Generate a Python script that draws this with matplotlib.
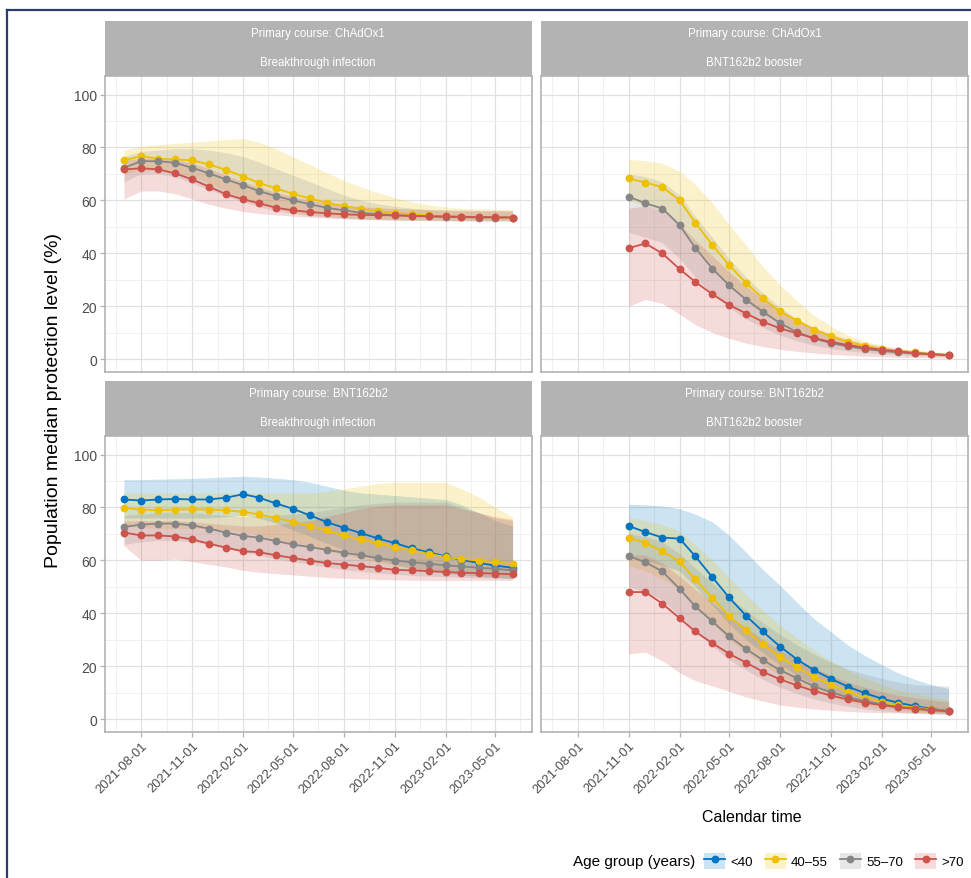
import matplotlib
matplotlib.use("Agg")
import matplotlib.pyplot as plt
import matplotlib.dates as mdates
from matplotlib.lines import Line2D
from matplotlib.patches import Patch
import numpy as np
import pandas as pd

plt.rcParams['font.family'] = ['Liberation Sans', 'DejaVu Sans']

# ---------------- data ----------------
dates_long = pd.date_range('2021-07-01', '2023-06-01', freq='MS')   # 24 months
dates_short = pd.date_range('2021-11-01', '2023-06-01', freq='MS')  # 20 months
tick_dates = pd.date_range('2021-08-01', '2023-05-01', freq='3MS')
x_limits = ('2021-05-27', '2023-07-06')
y_limits = (-4.9, 107)
y_ticks = [0, 20, 40, 60, 80, 100]

age_groups = ['<40', '40\u201355', '55\u201370', '>70']
group_colors = ['#0073C2', '#EFC000', '#868686', '#CD534C']

strip_line1 = ['Primary course: ChAdOx1', 'Primary course: ChAdOx1',
               'Primary course: BNT162b2', 'Primary course: BNT162b2']
strip_line2 = ['Breakthrough infection', 'BNT162b2 booster',
               'Breakthrough infection', 'BNT162b2 booster']

# Panel 1: ChAdOx1 / Breakthrough infection (groups 40-55, 55-70, >70)
p1_y_med = [75.1, 76.7, 75.7, 75.5, 75.1, 73.6, 71.5, 69.0, 66.6, 64.5, 62.5, 60.7,
            59.1, 57.8, 56.8, 55.9, 55.3, 54.7, 54.3, 54.0, 53.8, 53.7, 53.6, 53.5]
p1_y_lo = [70, 71.5, 71, 70.5, 69, 66.5, 63.5, 61, 58.5, 57, 55.5, 54.5,
           54, 53.5, 53, 52.8, 52.6, 52.5, 52.4, 52.3, 52.3, 52.2, 52.2, 52.2]
p1_y_hi = [79, 80.5, 81, 81.5, 82, 82.5, 83, 83.3, 82, 79.5, 76.5, 73.5,
           70.5, 67.5, 65, 63, 61, 59.5, 58.3, 57.5, 57, 56.8, 56.6, 56.5]
p1_g_med = [72.3, 74.8, 74.8, 74.2, 72.3, 70.2, 67.9, 65.7, 63.5, 61.6, 60.0, 58.5,
            57.2, 56.2, 55.3, 54.8, 54.4, 54.1, 53.9, 53.7, 53.6, 53.5, 53.5, 53.5]
p1_g_lo = [67, 70, 70, 69, 66.5, 64, 61.5, 59.5, 57.5, 56, 55, 54.2,
           53.6, 53.2, 52.9, 52.7, 52.5, 52.4, 52.3, 52.2, 52.2, 52.1, 52.1, 52.1]
p1_g_hi = [76.5, 78.5, 79, 79.5, 79.5, 79, 78, 76.5, 74.5, 72, 69.5, 67,
           64.5, 62, 60, 58.7, 57.8, 57, 56.5, 56.2, 56, 56, 55.9, 55.8]
p1_r_med = [71.7, 72.1, 71.7, 70.2, 67.9, 65.2, 62.3, 60.4, 58.9, 57.2, 56.2, 55.6,
            55.1, 54.7, 54.5, 54.4, 54.3, 54.1, 54.0, 53.9, 53.8, 53.7, 53.6, 53.5]
p1_r_lo = [60.5, 63.5, 63.5, 62.5, 60.5, 58.5, 57, 55.8, 55, 54.5, 54, 53.6,
           53.3, 53, 52.8, 52.7, 52.6, 52.5, 52.5, 52.4, 52.4, 52.4, 52.4, 52.4]
p1_r_hi = [75, 76, 76, 75.5, 74, 72, 69.5, 67, 65, 63, 61.5, 60,
           59, 58.2, 57.6, 57.2, 56.9, 56.7, 56.5, 56.4, 56.3, 56.2, 56.2, 56.2]

# Panel 2: ChAdOx1 / BNT162b2 booster
p2_y_med = [68.3, 66.7, 65.0, 60.0, 51.6, 43.1, 35.5, 28.7, 22.9, 18.0,
            14.5, 11.1, 8.6, 6.5, 5.0, 3.8, 3.1, 2.5, 1.9, 1.5]
p2_y_lo = [60, 58, 56, 51, 43, 35, 28, 22, 17, 13,
           10, 7.6, 5.8, 4.4, 3.4, 2.6, 2.0, 1.6, 1.3, 1.0]
p2_y_hi = [75.5, 75, 74, 71, 66, 59, 51, 43, 35, 28,
           22, 16.5, 12.5, 9, 6.8, 5.2, 4.2, 3.4, 2.8, 2.4]
p2_g_med = [61.4, 58.9, 56.9, 50.6, 42.1, 34.2, 27.9, 22.4, 17.9, 13.6,
            10.1, 7.8, 6.0, 4.8, 3.8, 3.1, 2.5, 2.1, 1.8, 1.5]
p2_g_lo = [48, 46, 44, 38, 31, 24.5, 19.5, 15, 12, 9,
           6.8, 5.2, 4, 3.1, 2.5, 2, 1.6, 1.3, 1.1, 0.9]
p2_g_hi = [70, 69, 67, 62, 54, 46, 38, 31, 25, 19.5,
           15, 11.5, 9, 7, 5.5, 4.4, 3.6, 3.0, 2.5, 2.1]
p2_r_med = [41.9, 43.7, 39.9, 34.0, 29.2, 24.5, 20.5, 17.2, 14.1, 11.6,
            9.7, 7.9, 6.5, 5.3, 4.3, 3.5, 2.9, 2.3, 1.8, 1.5]
p2_r_lo = [20, 22.5, 21, 17, 13, 10, 7.8, 6, 4.7, 3.7,
           2.9, 2.3, 1.8, 1.4, 1.1, 0.9, 0.7, 0.6, 0.5, 0.4]
p2_r_hi = [57, 58, 56, 51, 45, 39, 33, 27.5, 22.5, 18.5,
           15, 12, 9.5, 7.5, 6, 4.8, 3.9, 3.2, 2.6, 2.2]

# Panel 3: BNT162b2 / Breakthrough infection
p3_b_med = [83.0, 82.6, 83.0, 83.2, 83.0, 83.0, 83.7, 85.0, 83.7, 81.5, 79.5, 77.0,
            74.5, 72.3, 70.3, 68.3, 66.5, 64.6, 63.0, 61.5, 60.2, 59.0, 58.0, 57.2]
p3_b_lo = [76, 76, 76, 76, 76, 76, 76.5, 77, 76, 74, 71.5, 69,
           66.5, 64, 62, 60, 58.5, 57, 56, 55, 54.5, 54, 53.5, 53]
p3_b_hi = [90.5, 90.5, 90.7, 90.8, 91, 91.2, 91.5, 91.8, 91.5, 91, 90.5, 89.5,
           88, 86.5, 85.5, 85, 84.5, 84, 83.5, 83, 81, 78, 75, 73]
p3_y_med = [79.8, 79.2, 78.9, 79.2, 79.3, 79.2, 78.9, 78.3, 77.4, 76.0, 74.5, 73.0,
            71.3, 69.4, 67.9, 66.5, 65.0, 63.8, 62.5, 61.2, 60.6, 59.9, 59.3, 58.5]
p3_y_lo = [73, 72.5, 72, 72, 72, 72, 71.5, 70.5, 69.5, 68, 66.5, 65,
           63.5, 62, 60.5, 59, 58, 57, 56, 55.2, 54.7, 54.2, 53.8, 53.5]
p3_y_hi = [85.5, 85.5, 85.5, 85.5, 85.5, 85.5, 85.5, 85.5, 85.5, 85.5, 85.5, 85.5,
           86, 87, 88, 89, 89.5, 89.5, 89.5, 89.5, 87, 84, 80, 76.5]
p3_g_med = [72.6, 73.5, 73.9, 73.9, 73.2, 72.0, 70.5, 69.2, 68.6, 67.3, 66.0, 65.0,
            64.0, 62.9, 61.9, 60.9, 59.9, 59.3, 58.7, 58.1, 57.7, 57.2, 56.8, 56.2]
p3_g_lo = [66, 67, 67.5, 67.5, 67, 66, 64.5, 63, 62, 60.5, 59.5, 58.5,
           57.5, 56.5, 55.8, 55.2, 54.7, 54.3, 54, 53.8, 53.6, 53.4, 53.2, 53]
p3_g_hi = [77, 77.5, 78, 78, 78, 77.5, 77, 76.5, 76.5, 77, 77.5, 78,
           79, 80, 81, 81.5, 82, 82, 82, 82, 80, 78, 76, 75]
p3_r_med = [70.5, 69.4, 69.4, 69.0, 67.9, 66.3, 64.8, 63.4, 63.1, 61.9, 60.9, 59.9,
            59.0, 58.4, 57.8, 57.2, 56.4, 56.2, 55.9, 55.6, 55.3, 55.2, 55.0, 54.7]
p3_r_lo = [65.5, 60, 60, 60.5, 59.5, 58.5, 57.5, 56.2, 55.5, 55, 54.5, 54,
           53.5, 53.2, 53, 52.8, 52.6, 52.5, 52.4, 52.4, 52.4, 52.4, 52.4, 52.4]
p3_r_hi = [75, 75, 75, 75, 74.5, 74, 73.5, 73, 73, 73.5, 74, 75,
           76.5, 78, 79.5, 80.5, 81, 81, 81, 81, 79.5, 78, 76.5, 75.5]

# Panel 4: BNT162b2 / BNT162b2 booster
p4_b_med = [73.0, 70.7, 68.6, 68.2, 61.6, 53.6, 46.0, 39.0, 33.1, 27.4,
            22.5, 18.5, 15.2, 12.3, 9.8, 7.7, 6.2, 4.9, 3.9, 3.0]
p4_b_lo = [62, 60, 58, 56, 50, 43, 36, 30, 25, 20.5,
           16.5, 13, 10.5, 8.3, 6.5, 5.1, 4.1, 3.3, 2.7, 2.2]
p4_b_hi = [81.2, 81, 80.5, 79.5, 77.5, 74.5, 69.5, 63, 56.5, 50.5,
           44, 38, 33, 28, 24, 20.5, 17.5, 15, 13, 11.5]
p4_y_med = [68.6, 66.6, 63.4, 59.6, 52.8, 45.8, 39.0, 33.5, 28.2, 23.5,
            19.6, 15.9, 12.9, 10.4, 8.1, 6.5, 5.2, 4.3, 3.7, 3.0]
p4_y_lo = [58, 56, 53, 49, 42.5, 36, 30, 25, 20.5, 16.5,
           13.3, 10.5, 8.3, 6.5, 5, 4, 3.2, 2.6, 2.2, 1.8]
p4_y_hi = [76, 75, 73.5, 71, 66, 60, 53.5, 47, 41, 35.5,
           30.5, 26, 22, 18.5, 15.5, 13, 11, 9.5, 8.3, 7.3]
p4_g_med = [61.6, 59.3, 55.8, 49.2, 42.6, 36.9, 31.3, 26.5, 22.3, 18.5,
            15.4, 12.4, 10.1, 8.2, 6.8, 5.5, 4.6, 3.9, 3.4, 3.0]
p4_g_lo = [50, 48, 45, 39, 33, 27.5, 22.5, 18.5, 15, 12,
           9.6, 7.6, 6, 4.8, 3.8, 3.1, 2.6, 2.2, 1.9, 1.7]
p4_g_hi = [70, 69, 67, 62.5, 57, 51.5, 46, 41, 36.5, 32,
           28, 24.5, 21.5, 19, 17, 15.3, 14, 13, 12.6, 12.5]
p4_r_med = [48.0, 48.0, 43.6, 38.1, 33.1, 28.7, 24.7, 21.3, 17.9, 15.0,
            12.7, 10.6, 8.9, 7.4, 6.2, 5.2, 4.5, 3.9, 3.4, 3.0]
p4_r_lo = [24.6, 25.3, 22, 17.5, 14.5, 12.5, 10.5, 8.3, 6.8, 5.3,
           4.5, 3.8, 3.3, 2.9, 2.6, 2.4, 2.3, 2.2, 2.1, 2.0]
p4_r_hi = [62, 62, 59, 54, 49, 44, 39, 34.5, 30, 26,
           22.5, 19.5, 16.5, 14, 12, 10.3, 9, 8, 7.2, 6.5]

# (group index, median, low, high) per panel
panels = [
    (dates_long, [(1, p1_y_med, p1_y_lo, p1_y_hi), (2, p1_g_med, p1_g_lo, p1_g_hi),
                  (3, p1_r_med, p1_r_lo, p1_r_hi)]),
    (dates_short, [(1, p2_y_med, p2_y_lo, p2_y_hi), (2, p2_g_med, p2_g_lo, p2_g_hi),
                   (3, p2_r_med, p2_r_lo, p2_r_hi)]),
    (dates_long, [(0, p3_b_med, p3_b_lo, p3_b_hi), (1, p3_y_med, p3_y_lo, p3_y_hi),
                  (2, p3_g_med, p3_g_lo, p3_g_hi), (3, p3_r_med, p3_r_lo, p3_r_hi)]),
    (dates_short, [(0, p4_b_med, p4_b_lo, p4_b_hi), (1, p4_y_med, p4_y_lo, p4_y_hi),
                   (2, p4_g_med, p4_g_lo, p4_g_hi), (3, p4_r_med, p4_r_lo, p4_r_hi)]),
]

# ---------------- layout ----------------
W, H = 971, 879
fig = plt.figure(figsize=(W / 100, H / 100), dpi=100)
fig.patch.set_facecolor('white')

def px_axes(x0, y0, x1, y1):
    return fig.add_axes([x0 / W, 1 - y1 / H, (x1 - x0) / W, (y1 - y0) / H])

col_x = [(104.5, 532), (541, 968)]
row_y = [((22, 77), (77, 373)), ((382, 437), (437, 733))]

GRID_MAJ = '#e1e1e1'
GRID_MIN = '#eeeeee'
BORDER = '#b3b3b3'
TEXT = '#4d4d4d'

major_num = mdates.date2num(tick_dates)
step0 = major_num[1] - major_num[0]
minor_num = np.concatenate([[major_num[0] - step0 / 2],
                            (major_num[:-1] + major_num[1:]) / 2,
                            [major_num[-1] + (major_num[-1] - major_num[-2]) / 2]])
xlim = mdates.date2num(pd.to_datetime(list(x_limits)))

for i, (dates, series) in enumerate(panels):
    r, c = divmod(i, 2)
    x0, x1 = col_x[c]
    (sy0, sy1), (py0, py1) = row_y[r]
    # strip
    sax = px_axes(x0, sy0, x1, sy1)
    sax.set_facecolor(BORDER)
    for s in sax.spines.values():
        s.set_visible(False)
    sax.set_xticks([]); sax.set_yticks([])
    sax.text(0.5, 0.78, strip_line1[i], ha='center', va='center', color='white',
             fontsize=8.3, transform=sax.transAxes)
    sax.text(0.5, 0.26, strip_line2[i], ha='center', va='center', color='white',
             fontsize=8.3, transform=sax.transAxes)

    ax = px_axes(x0, py0, x1, py1)
    ax.set_xlim(xlim)
    ax.set_ylim(*y_limits)
    ax.set_xticks(major_num)
    ax.set_xticks(minor_num, minor=True)
    ax.set_yticks(y_ticks)
    ax.set_yticks([10, 30, 50, 70, 90], minor=True)
    ax.grid(which='major', color=GRID_MAJ, lw=0.9)
    ax.grid(which='minor', color=GRID_MIN, lw=0.6)
    ax.set_axisbelow(True)
    for s in ax.spines.values():
        s.set_color(BORDER)
        s.set_linewidth(1.2)
    ax.tick_params(which='minor', length=0)
    ax.tick_params(which='major', color=BORDER, length=3.5, width=0.9,
                   labelcolor=TEXT, pad=2)
    ax.tick_params(axis='y', labelsize=10)
    ax.tick_params(axis='x', labelsize=9.3)
    if r == 1:
        ax.set_xticklabels([d.strftime('%Y-%m-%d') for d in tick_dates],
                           rotation=45, ha='right', va='top', rotation_mode='anchor')
    else:
        ax.tick_params(axis='x', which='both', length=0, labelbottom=False)
    if c == 1:
        ax.tick_params(axis='y', which='both', length=0, labelleft=False)

    x = mdates.date2num(dates)
    for g, med, lo, hi in series:
        ax.fill_between(x, lo, hi, color=group_colors[g], alpha=0.2, lw=0)
    for g, med, lo, hi in series:
        ax.plot(x, med, color=group_colors[g], lw=1.3)
    for g, med, lo, hi in series:
        ax.plot(x, med, ls='none', marker='o', ms=4.6, color=group_colors[g])

# axis titles
fig.text(53 / W, 1 - 400 / H, 'Population median protection level (%)', rotation=90,
         ha='center', va='center', fontsize=14, color='black')
fig.text(752 / W, 1 - 818 / H, 'Calendar time', ha='center', va='center',
         fontsize=11.5, color='black')

# legend
fig.text(573 / W, 1 - 862 / H, 'Age group (years)', ha='left', va='center',
         fontsize=11, color='black')
handles = []
for col in group_colors:
    handles.append((Patch(facecolor=col, alpha=0.2, edgecolor='none'),
                    Line2D([], [], color=col, lw=1.3, marker='o', ms=4.6)))
fig.legend(handles, age_groups, ncol=4, loc='center left',
           bbox_to_anchor=(704 / W, 1 - 862 / H), frameon=False,
           fontsize=9.5, handlelength=1.6, handleheight=1.5, handletextpad=0.4,
           columnspacing=0.9, borderpad=0, borderaxespad=0)

# outer navy frame (left and top edges of the screenshot)
fig.add_artist(Line2D([7 / W, 7 / W], [0, 1 - 11 / H], color='#2a3b6e', lw=1.6,
                      transform=fig.transFigure))
fig.add_artist(Line2D([7 / W, 1], [1 - 11 / H, 1 - 11 / H], color='#2a3b6e', lw=1.6,
                      transform=fig.transFigure))

fig.savefig('out.png', dpi=100)
